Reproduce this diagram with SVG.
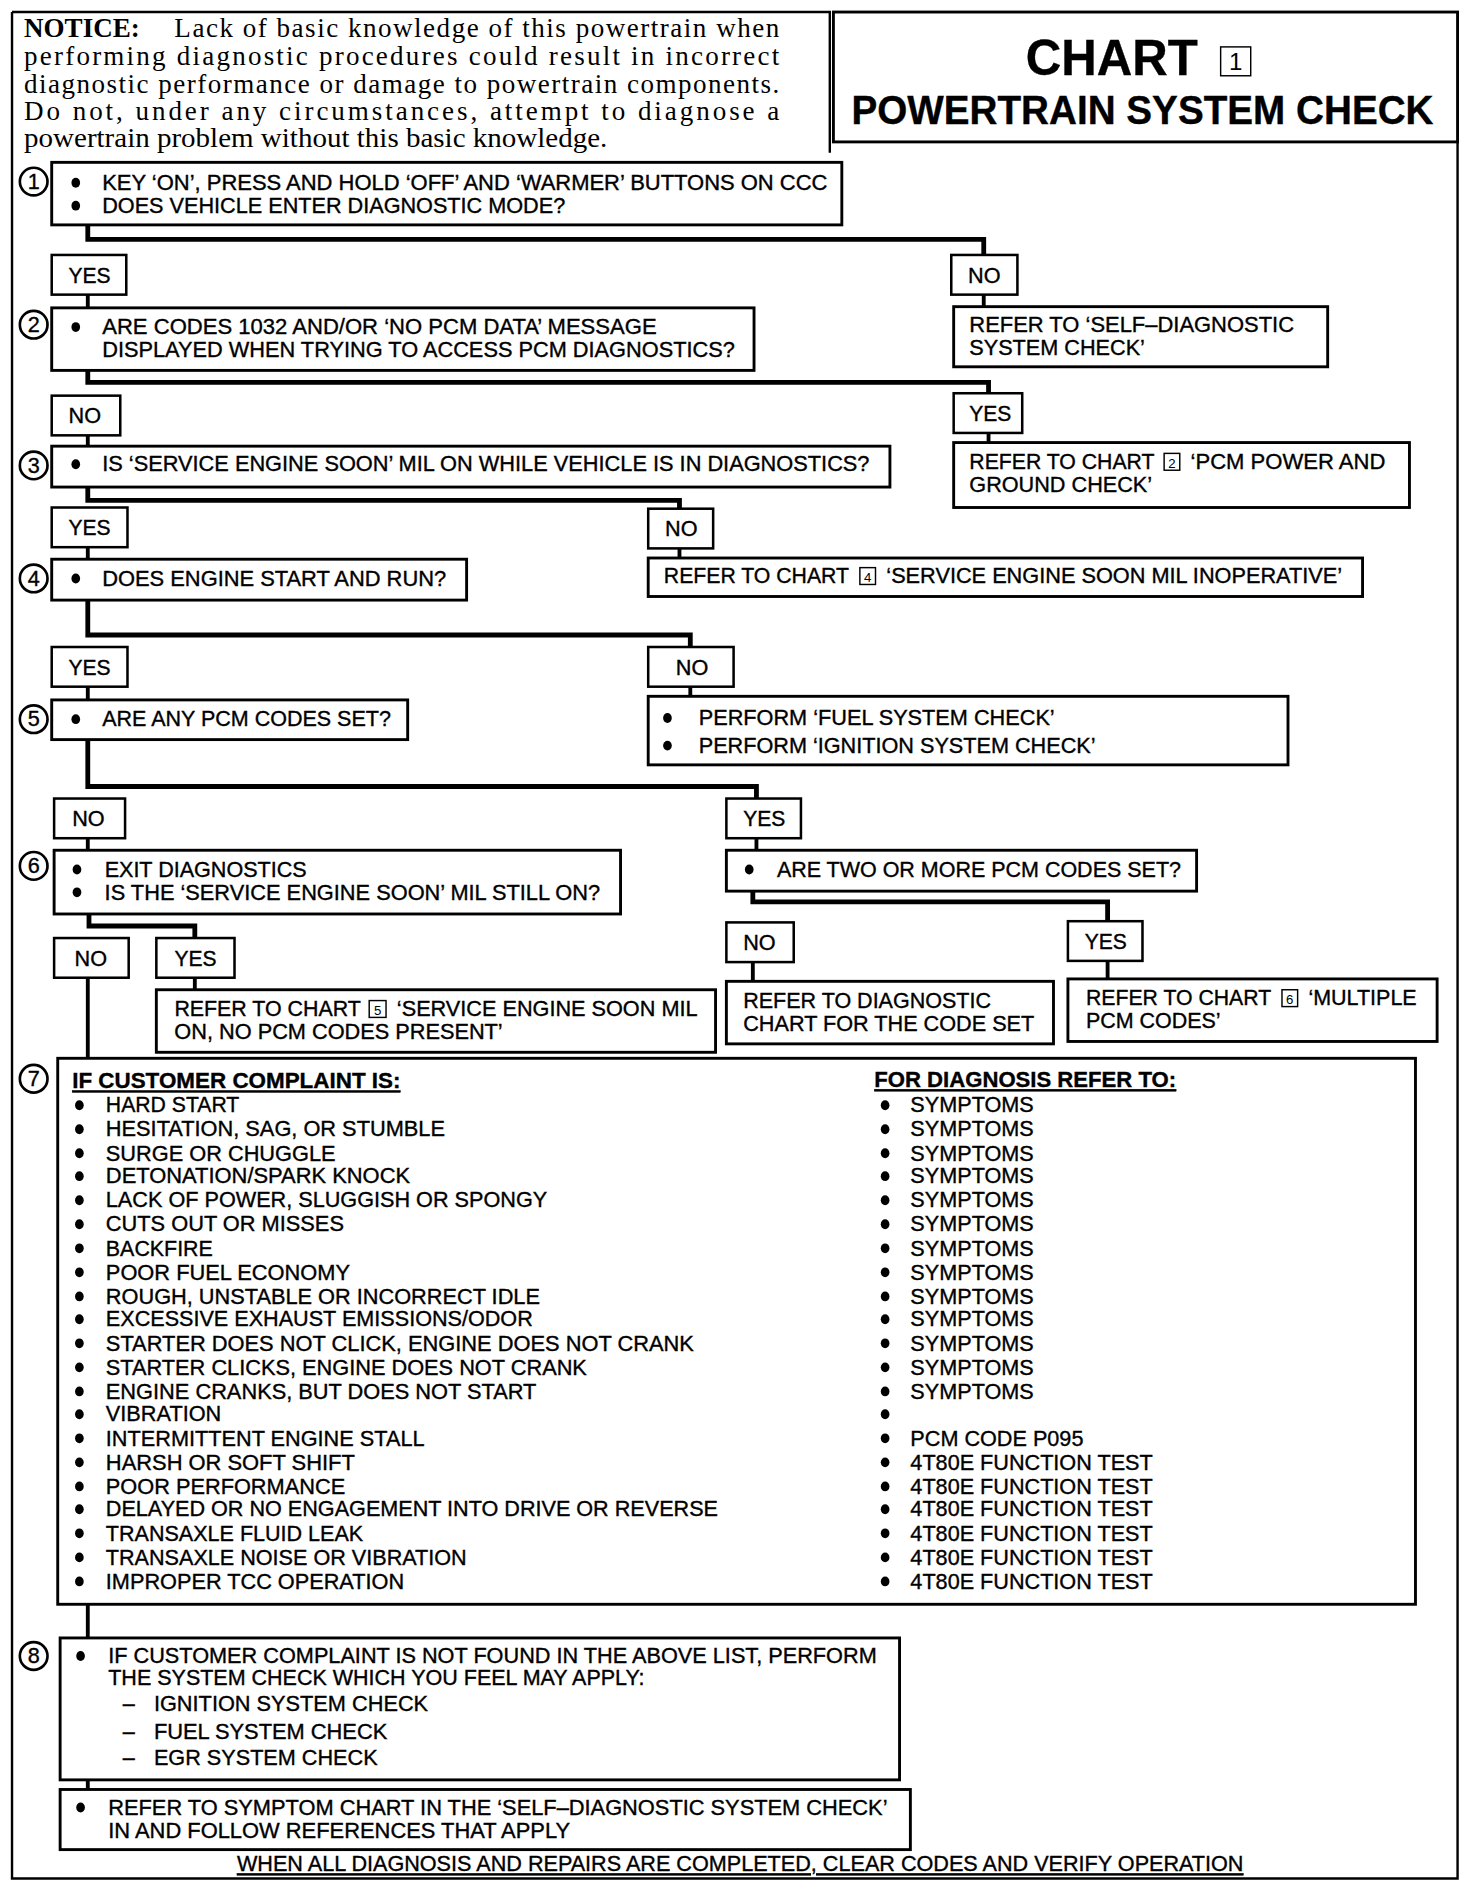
<svg xmlns="http://www.w3.org/2000/svg" width="1472" height="1886" viewBox="0 0 1472 1886">
<style>
.s{font-family:"Liberation Sans",Arial,Helvetica,sans-serif;font-size:18px;fill:#000;stroke:#000;stroke-width:0.3}
.r{font-family:"Liberation Sans",Arial,Helvetica,sans-serif;font-size:18px;fill:#000;stroke:#000;stroke-width:0.3}
.n{font-family:"Liberation Serif","Times New Roman",serif;font-size:22.5px;fill:#000}
.box{fill:#fff;stroke:#000;stroke-width:2.4}
.lbl{fill:#fff;stroke:#000;stroke-width:2.1}
.ic{fill:#fff;stroke:#000;stroke-width:1.2}
.ci{fill:#fff;stroke:#000;stroke-width:2.2}
.fr{fill:none;stroke:#000;stroke-width:2}
.cn{fill:none;stroke:#000;stroke-width:4;stroke-linejoin:miter;stroke-linecap:square}
.cv{fill:none;stroke:#000;stroke-width:3.2}
.u{text-decoration:underline}
.d{fill:#000}
</style>
<defs>
<ellipse id="bl" class="d" cx="0" cy="-6" rx="3.6" ry="4.1"/>
</defs>
<rect width="1472" height="1886" fill="#fff"/>
<g transform="scale(1.20261)">
<g id="frame">
<path class="fr" d="M10,10 V1562 H1212 V118"/>
<path class="fr" d="M10,10 H690 V127"/>
</g>
<g id="notice">
<text class="n" x="20" y="31" font-weight="bold">NOTICE:</text>
<text class="n" x="145" y="31" textLength="503" lengthAdjust="spacing">Lack of basic knowledge of this powertrain when</text>
<text class="n" x="20" y="54" textLength="628" lengthAdjust="spacing">performing diagnostic procedures could result in incorrect</text>
<text class="n" x="20" y="77" textLength="628" lengthAdjust="spacing">diagnostic performance or damage to powertrain components.</text>
<text class="n" x="20" y="100" textLength="628" lengthAdjust="spacing">Do not, under any circumstances, attempt to diagnose a</text>
<text class="n" x="20" y="122" textLength="485" lengthAdjust="spacingAndGlyphs">powertrain problem without this basic knowledge.</text>
</g>
<g id="title">
<rect class="box" x="693" y="10" width="519" height="108"/>
<text class="s" x="853" y="62" style="font-size:42px;font-weight:bold" textLength="143" lengthAdjust="spacingAndGlyphs">CHART</text>
<rect class="ic" x="1015" y="39" width="25" height="24"/>
<text class="s" x="1027.5" y="58" style="font-size:20px;stroke-width:0" text-anchor="middle">1</text>
<text class="s" x="708" y="103" style="font-size:34px;font-weight:bold" textLength="484" lengthAdjust="spacingAndGlyphs">POWERTRAIN SYSTEM CHECK</text>
</g>
<g id="connectors">
<path class="cn" d="M73,187 V199 H818 V212"/>
<path class="cv" d="M73,245 V256"/>
<path class="cv" d="M818,245 V255"/>
<path class="cn" d="M73,308 V318 H822 V327"/>
<path class="cv" d="M73,362 V371"/>
<path class="cv" d="M822,360 V368"/>
<path class="cn" d="M73,405 V416 H565 V423"/>
<path class="cv" d="M73,455 V465"/>
<path class="cv" d="M565,456 V464"/>
<path class="cn" d="M73,499 V528 H574 V538"/>
<path class="cv" d="M73,571 V582"/>
<path class="cv" d="M574,571 V579"/>
<path class="cn" d="M73,615 V654 H629 V664"/>
<path class="cv" d="M73,697 V707"/>
<path class="cv" d="M629,697 V707"/>
<path class="cn" d="M74,760 V770 H162 V780"/>
<path class="cv" d="M73,813 V880"/>
<path class="cv" d="M162,813 V823"/>
<path class="cn" d="M626,741 V750 H921 V766"/>
<path class="cv" d="M626,800 V816"/>
<path class="cv" d="M921,799 V814"/>
<path class="cv" d="M73,1334 V1362"/>
<path class="cv" d="M73,1480 V1488"/>
</g>
<g id="step1">
<circle class="ci" cx="28" cy="151" r="11.5"/><text class="s" x="28" y="157" text-anchor="middle">1</text>
<rect class="box" x="43" y="135" width="657" height="52"/>
<use href="#bl" x="63" y="158"/><use href="#bl" x="63" y="177"/>
<text class="s" x="85" y="158" textLength="603" lengthAdjust="spacingAndGlyphs">KEY ‘ON’, PRESS AND HOLD ‘OFF’ AND ‘WARMER’ BUTTONS ON CCC</text>
<text class="s" x="85" y="177" textLength="385" lengthAdjust="spacingAndGlyphs">DOES VEHICLE ENTER DIAGNOSTIC MODE?</text>
</g>
<g id="yes1"><rect class="lbl" x="43" y="212" width="62" height="33"/><text class="s" x="57" y="235" textLength="35" lengthAdjust="spacingAndGlyphs">YES</text></g>
<g id="no1"><rect class="lbl" x="791" y="212" width="55" height="33"/><text class="s" x="805" y="235" textLength="27" lengthAdjust="spacingAndGlyphs">NO</text></g>
<g id="selfdiag">
<rect class="box" x="793" y="255" width="311" height="50"/>
<text class="s" x="806" y="276" textLength="270" lengthAdjust="spacingAndGlyphs">REFER TO ‘SELF–DIAGNOSTIC</text>
<text class="s" x="806" y="295" textLength="146" lengthAdjust="spacingAndGlyphs">SYSTEM CHECK’</text>
</g>
<g id="step2">
<circle class="ci" cx="28" cy="270" r="11.5"/><text class="s" x="28" y="276" text-anchor="middle">2</text>
<rect class="box" x="43" y="256" width="584" height="52"/>
<use href="#bl" x="63" y="278"/>
<text class="s" x="85" y="278" textLength="461" lengthAdjust="spacingAndGlyphs">ARE CODES 1032 AND/OR ‘NO PCM DATA’ MESSAGE</text>
<text class="s" x="85" y="297" textLength="526" lengthAdjust="spacingAndGlyphs">DISPLAYED WHEN TRYING TO ACCESS PCM DIAGNOSTICS?</text>
</g>
<g id="no2"><rect class="lbl" x="43" y="329" width="57" height="33"/><text class="s" x="57" y="352" textLength="27" lengthAdjust="spacingAndGlyphs">NO</text></g>
<g id="yes2"><rect class="lbl" x="793" y="327" width="57" height="33"/><text class="s" x="806" y="350" textLength="35" lengthAdjust="spacingAndGlyphs">YES</text></g>
<g id="chart2">
<rect class="box" x="793" y="368" width="379" height="54"/>
<text class="s" x="806" y="390" textLength="154" lengthAdjust="spacingAndGlyphs">REFER TO CHART</text>
<rect class="ic" x="968" y="377" width="13" height="14"/><text class="s" x="974.5" y="389" style="font-size:11px;stroke-width:0" text-anchor="middle">2</text>
<text class="s" x="990" y="390" textLength="162" lengthAdjust="spacingAndGlyphs">‘PCM POWER AND</text>
<text class="s" x="806" y="409" textLength="152" lengthAdjust="spacingAndGlyphs">GROUND CHECK’</text>
</g>
<g id="step3">
<circle class="ci" cx="28" cy="387" r="11.5"/><text class="s" x="28" y="393" text-anchor="middle">3</text>
<rect class="box" x="43" y="371" width="697" height="34"/>
<use href="#bl" x="63" y="392"/>
<text class="s" x="85" y="392" textLength="638" lengthAdjust="spacingAndGlyphs">IS ‘SERVICE ENGINE SOON’ MIL ON WHILE VEHICLE IS IN DIAGNOSTICS?</text>
</g>
<g id="yes3"><rect class="lbl" x="43" y="422" width="63" height="33"/><text class="s" x="57" y="445" textLength="35" lengthAdjust="spacingAndGlyphs">YES</text></g>
<g id="no3"><rect class="lbl" x="539" y="423" width="54" height="33"/><text class="s" x="553" y="446" textLength="27" lengthAdjust="spacingAndGlyphs">NO</text></g>
<g id="chart4">
<rect class="box" x="539" y="464" width="594" height="32"/>
<text class="s" x="552" y="485" textLength="154" lengthAdjust="spacingAndGlyphs">REFER TO CHART</text>
<rect class="ic" x="715" y="472" width="13" height="14"/><text class="s" x="721.5" y="484" style="font-size:11px;stroke-width:0" text-anchor="middle">4</text>
<text class="s" x="737" y="485" textLength="379" lengthAdjust="spacingAndGlyphs">‘SERVICE ENGINE SOON MIL INOPERATIVE’</text>
</g>
<g id="step4">
<circle class="ci" cx="28" cy="481" r="11.5"/><text class="s" x="28" y="487" text-anchor="middle">4</text>
<rect class="box" x="43" y="465" width="345" height="34"/>
<use href="#bl" x="63" y="487"/>
<text class="s" x="85" y="487" textLength="286" lengthAdjust="spacingAndGlyphs">DOES ENGINE START AND RUN?</text>
</g>
<g id="yes4"><rect class="lbl" x="43" y="538" width="63" height="33"/><text class="s" x="57" y="561" textLength="35" lengthAdjust="spacingAndGlyphs">YES</text></g>
<g id="no4"><rect class="lbl" x="539" y="538" width="71" height="33"/><text class="s" x="562" y="561" textLength="27" lengthAdjust="spacingAndGlyphs">NO</text></g>
<g id="perform">
<rect class="box" x="539" y="579" width="532" height="57"/>
<use href="#bl" x="555" y="603"/><use href="#bl" x="555" y="626"/>
<text class="s" x="581" y="603" textLength="296" lengthAdjust="spacingAndGlyphs">PERFORM ‘FUEL SYSTEM CHECK’</text>
<text class="s" x="581" y="626" textLength="330" lengthAdjust="spacingAndGlyphs">PERFORM ‘IGNITION SYSTEM CHECK’</text>
</g>
<g id="step5">
<circle class="ci" cx="28" cy="598" r="11.5"/><text class="s" x="28" y="604" text-anchor="middle">5</text>
<rect class="box" x="43" y="582" width="296" height="33"/>
<use href="#bl" x="63" y="604"/>
<text class="s" x="85" y="604" textLength="240" lengthAdjust="spacingAndGlyphs">ARE ANY PCM CODES SET?</text>
</g>
<g id="no5"><rect class="lbl" x="45" y="664" width="59" height="33"/><text class="s" x="60" y="687" textLength="27" lengthAdjust="spacingAndGlyphs">NO</text></g>
<g id="yes5"><rect class="lbl" x="604" y="664" width="62" height="33"/><text class="s" x="618" y="687" textLength="35" lengthAdjust="spacingAndGlyphs">YES</text></g>
<g id="step6">
<circle class="ci" cx="28" cy="720" r="11.5"/><text class="s" x="28" y="726" text-anchor="middle">6</text>
<rect class="box" x="45" y="707" width="471" height="53"/>
<use href="#bl" x="64" y="729"/><use href="#bl" x="64" y="748"/>
<text class="s" x="87" y="729" textLength="168" lengthAdjust="spacingAndGlyphs">EXIT DIAGNOSTICS</text>
<text class="s" x="87" y="748" textLength="412" lengthAdjust="spacingAndGlyphs">IS THE ‘SERVICE ENGINE SOON’ MIL STILL ON?</text>
</g>
<g id="twoormore">
<rect class="box" x="604" y="707" width="391" height="34"/>
<use href="#bl" x="623" y="729"/>
<text class="s" x="646" y="729" textLength="336" lengthAdjust="spacingAndGlyphs">ARE TWO OR MORE PCM CODES SET?</text>
</g>
<g id="no6"><rect class="lbl" x="45" y="780" width="62" height="33"/><text class="s" x="62" y="803" textLength="27" lengthAdjust="spacingAndGlyphs">NO</text></g>
<g id="yes6"><rect class="lbl" x="130" y="780" width="65" height="33"/><text class="s" x="145" y="803" textLength="35" lengthAdjust="spacingAndGlyphs">YES</text></g>
<g id="chart5">
<rect class="box" x="130" y="823" width="465" height="52"/>
<text class="s" x="145" y="845" textLength="155" lengthAdjust="spacingAndGlyphs">REFER TO CHART</text>
<rect class="ic" x="307" y="832" width="14" height="14"/><text class="s" x="314" y="844" style="font-size:11px;stroke-width:0" text-anchor="middle">5</text>
<text class="s" x="330" y="845" textLength="250" lengthAdjust="spacingAndGlyphs">‘SERVICE ENGINE SOON MIL</text>
<text class="s" x="145" y="864" textLength="273" lengthAdjust="spacingAndGlyphs">ON, NO PCM CODES PRESENT’</text>
</g>
<g id="no7"><rect class="lbl" x="604" y="767" width="56" height="33"/><text class="s" x="618" y="790" textLength="27" lengthAdjust="spacingAndGlyphs">NO</text></g>
<g id="yes7"><rect class="lbl" x="888" y="766" width="62" height="33"/><text class="s" x="902" y="789" textLength="35" lengthAdjust="spacingAndGlyphs">YES</text></g>
<g id="diagchart">
<rect class="box" x="604" y="816" width="272" height="52"/>
<text class="s" x="618" y="838" textLength="206" lengthAdjust="spacingAndGlyphs">REFER TO DIAGNOSTIC</text>
<text class="s" x="618" y="857" textLength="242" lengthAdjust="spacingAndGlyphs">CHART FOR THE CODE SET</text>
</g>
<g id="chart6">
<rect class="box" x="888" y="814" width="307" height="52"/>
<text class="s" x="903" y="836" textLength="154" lengthAdjust="spacingAndGlyphs">REFER TO CHART</text>
<rect class="ic" x="1066" y="823" width="13" height="14"/><text class="s" x="1072.5" y="835" style="font-size:11px;stroke-width:0" text-anchor="middle">6</text>
<text class="s" x="1088" y="836" textLength="90" lengthAdjust="spacingAndGlyphs">‘MULTIPLE</text>
<text class="s" x="903" y="855" textLength="112" lengthAdjust="spacingAndGlyphs">PCM CODES’</text>
</g>
<g id="step7">
<circle class="ci" cx="28" cy="897" r="11.5"/><text class="s" x="28" y="903" text-anchor="middle">7</text>
<rect class="box" x="48" y="880" width="1129" height="454"/>
<text class="s u" x="60" y="905" style="font-weight:bold" textLength="273" lengthAdjust="spacingAndGlyphs">IF CUSTOMER COMPLAINT IS:</text>
<text class="s u" x="727" y="904" style="font-weight:bold" textLength="251" lengthAdjust="spacingAndGlyphs">FOR DIAGNOSIS REFER TO:</text>
<g>
<use href="#bl" x="66" y="925"/><use href="#bl" x="66" y="945"/><use href="#bl" x="66" y="965"/><use href="#bl" x="66" y="984"/><use href="#bl" x="66" y="1004"/><use href="#bl" x="66" y="1024"/><use href="#bl" x="66" y="1044"/><use href="#bl" x="66" y="1064"/><use href="#bl" x="66" y="1084"/><use href="#bl" x="66" y="1103"/><use href="#bl" x="66" y="1123"/><use href="#bl" x="66" y="1143"/><use href="#bl" x="66" y="1163"/><use href="#bl" x="66" y="1182"/><use href="#bl" x="66" y="1202"/><use href="#bl" x="66" y="1222"/><use href="#bl" x="66" y="1242"/><use href="#bl" x="66" y="1261"/><use href="#bl" x="66" y="1281"/><use href="#bl" x="66" y="1301"/><use href="#bl" x="66" y="1321"/>
<use href="#bl" x="736" y="925"/><use href="#bl" x="736" y="945"/><use href="#bl" x="736" y="965"/><use href="#bl" x="736" y="984"/><use href="#bl" x="736" y="1004"/><use href="#bl" x="736" y="1024"/><use href="#bl" x="736" y="1044"/><use href="#bl" x="736" y="1064"/><use href="#bl" x="736" y="1084"/><use href="#bl" x="736" y="1103"/><use href="#bl" x="736" y="1123"/><use href="#bl" x="736" y="1143"/><use href="#bl" x="736" y="1163"/><use href="#bl" x="736" y="1182"/><use href="#bl" x="736" y="1202"/><use href="#bl" x="736" y="1222"/><use href="#bl" x="736" y="1242"/><use href="#bl" x="736" y="1261"/><use href="#bl" x="736" y="1281"/><use href="#bl" x="736" y="1301"/><use href="#bl" x="736" y="1321"/>
</g>
<g class="s">
<text x="88" y="925" textLength="111" lengthAdjust="spacingAndGlyphs">HARD START</text>
<text x="88" y="945" textLength="282" lengthAdjust="spacingAndGlyphs">HESITATION, SAG, OR STUMBLE</text>
<text x="88" y="965" textLength="191" lengthAdjust="spacingAndGlyphs">SURGE OR CHUGGLE</text>
<text x="88" y="984" textLength="253" lengthAdjust="spacingAndGlyphs">DETONATION/SPARK KNOCK</text>
<text x="88" y="1004" textLength="367" lengthAdjust="spacingAndGlyphs">LACK OF POWER, SLUGGISH OR SPONGY</text>
<text x="88" y="1024" textLength="198" lengthAdjust="spacingAndGlyphs">CUTS OUT OR MISSES</text>
<text x="88" y="1044" textLength="89" lengthAdjust="spacingAndGlyphs">BACKFIRE</text>
<text x="88" y="1064" textLength="203" lengthAdjust="spacingAndGlyphs">POOR FUEL ECONOMY</text>
<text x="88" y="1084" textLength="361" lengthAdjust="spacingAndGlyphs">ROUGH, UNSTABLE OR INCORRECT IDLE</text>
<text x="88" y="1103" textLength="355" lengthAdjust="spacingAndGlyphs">EXCESSIVE EXHAUST EMISSIONS/ODOR</text>
<text x="88" y="1123" textLength="489" lengthAdjust="spacingAndGlyphs">STARTER DOES NOT CLICK, ENGINE DOES NOT CRANK</text>
<text x="88" y="1143" textLength="400" lengthAdjust="spacingAndGlyphs">STARTER CLICKS, ENGINE DOES NOT CRANK</text>
<text x="88" y="1163" textLength="358" lengthAdjust="spacingAndGlyphs">ENGINE CRANKS, BUT DOES NOT START</text>
<text x="88" y="1182" textLength="96" lengthAdjust="spacingAndGlyphs">VIBRATION</text>
<text x="88" y="1202" textLength="265" lengthAdjust="spacingAndGlyphs">INTERMITTENT ENGINE STALL</text>
<text x="88" y="1222" textLength="207" lengthAdjust="spacingAndGlyphs">HARSH OR SOFT SHIFT</text>
<text x="88" y="1242" textLength="199" lengthAdjust="spacingAndGlyphs">POOR PERFORMANCE</text>
<text x="88" y="1261" textLength="509" lengthAdjust="spacingAndGlyphs">DELAYED OR NO ENGAGEMENT INTO DRIVE OR REVERSE</text>
<text x="88" y="1281" textLength="214" lengthAdjust="spacingAndGlyphs">TRANSAXLE FLUID LEAK</text>
<text x="88" y="1301" textLength="300" lengthAdjust="spacingAndGlyphs">TRANSAXLE NOISE OR VIBRATION</text>
<text x="88" y="1321" textLength="248" lengthAdjust="spacingAndGlyphs">IMPROPER TCC OPERATION</text>
</g>
<g class="r">
<text x="757" y="925">SYMPTOMS</text>
<text x="757" y="945">SYMPTOMS</text>
<text x="757" y="965">SYMPTOMS</text>
<text x="757" y="984">SYMPTOMS</text>
<text x="757" y="1004">SYMPTOMS</text>
<text x="757" y="1024">SYMPTOMS</text>
<text x="757" y="1044">SYMPTOMS</text>
<text x="757" y="1064">SYMPTOMS</text>
<text x="757" y="1084">SYMPTOMS</text>
<text x="757" y="1103">SYMPTOMS</text>
<text x="757" y="1123">SYMPTOMS</text>
<text x="757" y="1143">SYMPTOMS</text>
<text x="757" y="1163">SYMPTOMS</text>
<text x="757" y="1202">PCM CODE P095</text>
<text x="757" y="1222">4T80E FUNCTION TEST</text>
<text x="757" y="1242">4T80E FUNCTION TEST</text>
<text x="757" y="1261">4T80E FUNCTION TEST</text>
<text x="757" y="1281">4T80E FUNCTION TEST</text>
<text x="757" y="1301">4T80E FUNCTION TEST</text>
<text x="757" y="1321">4T80E FUNCTION TEST</text>
</g>
</g>
<g id="step8">
<circle class="ci" cx="28" cy="1377" r="11.5"/><text class="s" x="28" y="1383" text-anchor="middle">8</text>
<rect class="box" x="50" y="1362" width="698" height="118"/>
<use href="#bl" x="67" y="1383"/>
<text class="s" x="90" y="1383" textLength="639" lengthAdjust="spacingAndGlyphs">IF CUSTOMER COMPLAINT IS NOT FOUND IN THE ABOVE LIST, PERFORM</text>
<text class="s" x="90" y="1401" textLength="446" lengthAdjust="spacingAndGlyphs">THE SYSTEM CHECK WHICH YOU FEEL MAY APPLY:</text>
<text class="s" x="102" y="1423">–</text>
<text class="s" x="128" y="1423" textLength="228" lengthAdjust="spacingAndGlyphs">IGNITION SYSTEM CHECK</text>
<text class="s" x="102" y="1446">–</text>
<text class="s" x="128" y="1446" textLength="194" lengthAdjust="spacingAndGlyphs">FUEL SYSTEM CHECK</text>
<text class="s" x="102" y="1468">–</text>
<text class="s" x="128" y="1468" textLength="186" lengthAdjust="spacingAndGlyphs">EGR SYSTEM CHECK</text>
</g>
<g id="step9">
<rect class="box" x="50" y="1488" width="707" height="50"/>
<use href="#bl" x="67" y="1509"/>
<text class="s" x="90" y="1509" textLength="648" lengthAdjust="spacingAndGlyphs">REFER TO SYMPTOM CHART IN THE ‘SELF–DIAGNOSTIC SYSTEM CHECK’</text>
<text class="s" x="90" y="1528" textLength="384" lengthAdjust="spacingAndGlyphs">IN  AND FOLLOW REFERENCES THAT APPLY</text>
</g>
<g id="footer">
<text class="s u" x="197" y="1556" textLength="837" lengthAdjust="spacingAndGlyphs">WHEN ALL DIAGNOSIS AND REPAIRS ARE COMPLETED, CLEAR CODES AND VERIFY OPERATION</text>
</g>
</g>
</svg>
